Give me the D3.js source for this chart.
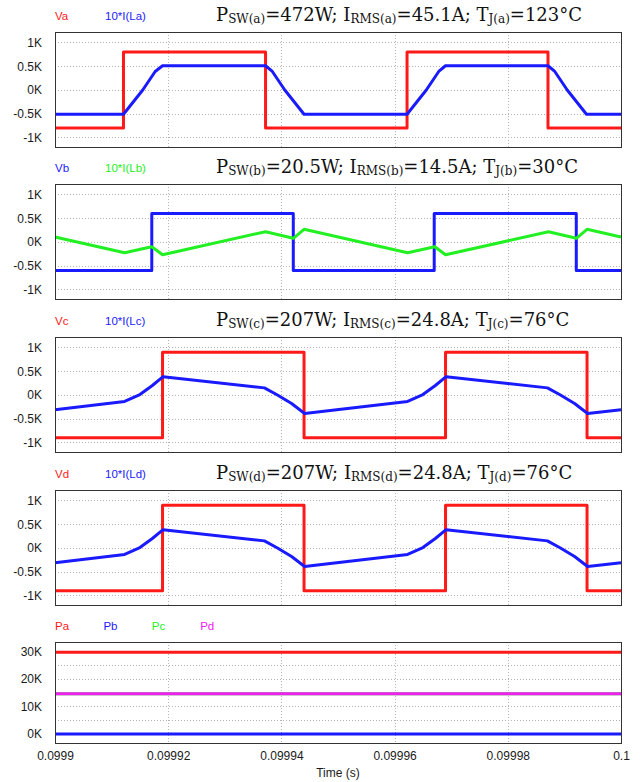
<!DOCTYPE html>
<html>
<head>
<meta charset="utf-8">
<script src="https://cdn.jsdelivr.net/npm/d3@7"></script>
<style>
body { margin: 0; background: #fff; }
</style>
</head>
<body>
<script>
// time values are in microseconds after T0, voltages/currents in kV, power in kW
var T0 = 0.0999;

var timeTicks = [0.0999, 0.09992, 0.09994, 0.09996, 0.09998, 0.1];
var timeTickLabels = ["0.0999", "0.09992", "0.09994", "0.09996", "0.09998", "0.1"];

var voltTicks = [-1, -0.5, 0, 0.5, 1];
var voltTickLabels = ["-1K", "-0.5K", "0K", "0.5K", "1K"];
var powerTicks = [0, 10, 20, 30];
var powerTickLabels = ["0K", "10K", "20K", "30K"];
var powerGrid = [0, 5, 10, 15, 20, 25, 30];

// panel a
var vaT = [0, 12.1, 37.2, 62.2, 87.1, 100];
var vaV = [-0.8, 0.8, -0.8, 0.8, -0.8, -0.8];
var iaT = [0, 12.1, 15.5, 17.7, 19.0, 37.2, 38.4, 40.6, 44.0, 62.2, 65.6, 67.8, 69.0, 87.1, 88.3, 90.5, 93.9, 100];
var iaV = [-0.51, -0.51, 0, 0.39, 0.51, 0.51, 0.39, 0, -0.51, -0.51, 0, 0.39, 0.51, 0.51, 0.39, 0, -0.51, -0.51];

// panel b
var vbT = [0, 17.1, 42.1, 67.0, 92.1, 100];
var vbV = [-0.6, 0.6, -0.6, 0.6, -0.6, -0.6];
var ibT = [0, 12.3, 17.1, 19.0, 37.2, 42.1, 44.0, 62.3, 67.1, 69.0, 87.2, 92.1, 94.0, 100];
var ibV = [0.105, -0.225, -0.1, -0.27, 0.217, 0.078, 0.267, -0.225, -0.1, -0.27, 0.217, 0.078, 0.267, 0.105];

// panel c
var vcT = [0, 19.0, 44.0, 69.0, 94.0, 100];
var vcV = [-0.9, 0.9, -0.9, 0.9, -0.9, -0.9];
var icT = [0, 12.3, 15.0, 17.2, 19.1, 37.0, 39.3, 41.8, 44.1, 62.3, 65.0, 67.2, 69.1, 87.0, 89.3, 91.8, 94.1, 100];
var icV = [-0.31, -0.135, 0.01, 0.2, 0.385, 0.15, 0.0, -0.18, -0.39, -0.135, 0.01, 0.2, 0.385, 0.15, 0.0, -0.18, -0.39, -0.31];

// panel d (same as c)
var vdT = [0, 19.0, 44.0, 69.0, 94.0, 100];
var vdV = [-0.9, 0.9, -0.9, 0.9, -0.9, -0.9];
var idT = [0, 12.3, 15.0, 17.2, 19.1, 37.0, 39.3, 41.8, 44.1, 62.3, 65.0, 67.2, 69.1, 87.0, 89.3, 91.8, 94.1, 100];
var idV = [-0.31, -0.135, 0.01, 0.2, 0.385, 0.15, 0.0, -0.18, -0.39, -0.135, 0.01, 0.2, 0.385, 0.15, 0.0, -0.18, -0.39, -0.31];

// power panel, flat lines
var powerT = [0, 100];
var powerNames = ["Pa", "Pb", "Pc", "Pd"];
var powerValues = [29.8, 0, 14.6, 14.6];

// titles
var panelLetters = ["a", "b", "c", "d"];
var pswLabels = ["472W", "20.5W", "207W", "207W"];
var irmsLabels = ["45.1A", "14.5A", "24.8A", "24.8A"];
var tjLabels = ["123°C", "30°C", "76°C", "76°C"];

var colors = {
    red: "#ff1a1a",
    blue: "#1a1aff",
    green: "#22f022",
    magenta: "#f020f0"
};

var width = 640, height = 782;
var left = 55, right = 621;

var svg = d3.select("body").append("svg")
    .attr("width", width)
    .attr("height", height)
    .style("font-family", "'Liberation Sans', Arial, sans-serif");

var x = d3.scaleLinear().domain([0.0999, 0.1]).range([left, right]);

function pts(ts, vs) {
    return ts.map(function(t, i) { return [T0 + t * 1e-6, vs[i]]; });
}

var panels = [
    { top: 32, h: 115, domain: [-1.2, 1.221], ticks: voltTicks, labels: voltTickLabels, grid: voltTicks,
      series: [
        { name: "Va", color: colors.red, data: pts(vaT, vaV), step: true },
        { name: "10*I(La)", color: colors.blue, data: pts(iaT, iaV) }
      ] },
    { top: 184, h: 115, domain: [-1.2, 1.221], ticks: voltTicks, labels: voltTickLabels, grid: voltTicks,
      series: [
        { name: "Vb", color: colors.blue, data: pts(vbT, vbV), step: true },
        { name: "10*I(Lb)", color: colors.green, data: pts(ibT, ibV) }
      ] },
    { top: 337, h: 115, domain: [-1.2, 1.221], ticks: voltTicks, labels: voltTickLabels, grid: voltTicks,
      series: [
        { name: "Vc", color: colors.red, data: pts(vcT, vcV), step: true },
        { name: "10*I(Lc)", color: colors.blue, data: pts(icT, icV) }
      ] },
    { top: 490, h: 115, domain: [-1.2, 1.221], ticks: voltTicks, labels: voltTickLabels, grid: voltTicks,
      series: [
        { name: "Vd", color: colors.red, data: pts(vdT, vdV), step: true },
        { name: "10*I(Ld)", color: colors.blue, data: pts(idT, idV) }
      ] },
    { top: 642, h: 101, domain: [-3.3, 33.5], ticks: powerTicks, labels: powerTickLabels, grid: powerGrid,
      series: powerNames.map(function(n, i) {
          return { name: n, color: [colors.red, colors.blue, colors.green, colors.magenta][i],
                   data: pts(powerT, [powerValues[i], powerValues[i]]) };
      }) }
];

panels.forEach(function(p, pi) {
    var y = d3.scaleLinear().domain(p.domain).range([p.top + p.h, p.top]);
    var g = svg.append("g");

    // grid
    g.selectAll(".hgrid").data(p.grid).enter().append("line")
        .attr("x1", left).attr("x2", right)
        .attr("y1", function(d) { return Math.round(y(d)) + 0.5; })
        .attr("y2", function(d) { return Math.round(y(d)) + 0.5; })
        .style("stroke", "#b4b4b4").style("stroke-dasharray", "1,2");
    g.selectAll(".vgrid").data(timeTicks.slice(1, -1)).enter().append("line")
        .attr("y1", p.top).attr("y2", p.top + p.h)
        .attr("x1", function(d) { return Math.round(x(d)) + 0.5; })
        .attr("x2", function(d) { return Math.round(x(d)) + 0.5; })
        .style("stroke", "#b4b4b4").style("stroke-dasharray", "1,2");

    // y axis labels
    var yAxis = d3.axisLeft(y).tickValues(p.ticks).tickSize(0).tickPadding(13)
        .tickFormat(function(d, i) { return p.labels[i]; });
    var ya = g.append("g").attr("transform", "translate(" + left + ",0)").call(yAxis);
    ya.select(".domain").remove();
    ya.selectAll("text").style("font-size", "12px").style("fill", "#1a1a1a")
        .style("font-family", "'Liberation Sans', Arial, sans-serif");

    // traces
    p.series.forEach(function(s) {
        var line = d3.line()
            .x(function(d) { return x(d[0]); })
            .y(function(d) { return y(d[1]); })
            .curve(s.step ? d3.curveStepAfter : d3.curveLinear);
        g.append("path").datum(s.data)
            .attr("d", line)
            .style("fill", "none")
            .style("stroke", s.color)
            .style("stroke-width", 3)
            .style("stroke-linejoin", "round");
    });

    // frame
    g.append("rect")
        .attr("x", left + 0.5).attr("y", p.top + 0.5)
        .attr("width", right - left).attr("height", p.h)
        .style("fill", "none").style("stroke", "#333").style("stroke-width", 1);

    // legend
    var legendStep = pi < 4 ? 50 : 48.4;
    g.selectAll(".legend").data(p.series).enter().append("text")
        .attr("x", function(d, i) { return left + i * legendStep; })
        .attr("y", p.top - 12.5)
        .style("font-size", "11.5px")
        .style("fill", function(d) { return d.color; })
        .text(function(d) { return d.name; });

    // title
    if (pi < 4) {
        var t = g.append("text")
            .attr("x", 216).attr("y", p.top - 11)
            .style("font-family", "'DejaVu Serif', serif")
            .style("font-size", "18px")
            .style("fill", "#111");
        var L = panelLetters[pi];
        var parts = [
            ["P", false], ["SW(" + L + ")", true], ["=" + pswLabels[pi] + "; I", false],
            ["RMS(" + L + ")", true], ["=" + irmsLabels[pi] + "; T", false],
            ["J(" + L + ")", true], ["=" + tjLabels[pi], false]
        ];
        parts.forEach(function(part) {
            var ts = t.append("tspan").text(part[0]);
            if (part[1]) ts.style("font-size", "12px").attr("dy", 1.5);
            else ts.attr("dy", 0);
        });
        // reset baseline after subscripts
        t.selectAll("tspan").each(function(d, i) {
            var isSub = parts[i][1], prevSub = i > 0 && parts[i - 1][1];
            d3.select(this).attr("dy", isSub ? 1.5 : (prevSub ? -1.5 : 0));
        });
    }

    // x axis on bottom panel only
    if (pi === 4) {
        var xAxis = d3.axisBottom(x).tickValues(timeTicks).tickSize(0).tickPadding(8)
            .tickFormat(function(d, i) { return timeTickLabels[i]; });
        var xa = g.append("g").attr("transform", "translate(0," + (p.top + p.h) + ")").call(xAxis);
        xa.select(".domain").remove();
        xa.selectAll("text").style("font-size", "12px").style("fill", "#1a1a1a")
            .style("font-family", "'Liberation Sans', Arial, sans-serif");
        g.append("text")
            .attr("x", (left + right) / 2).attr("y", 777)
            .attr("text-anchor", "middle")
            .style("font-size", "12px").style("fill", "#1a1a1a")
            .text("Time (s)");
    }
});
</script>
</body>
</html>
